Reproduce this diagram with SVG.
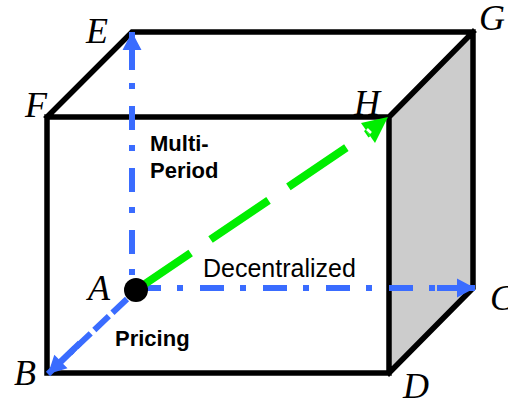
<svg xmlns="http://www.w3.org/2000/svg" width="508" height="400" viewBox="0 0 508 400">
<style>
.edge{fill:none;stroke:#000;stroke-width:5.5;stroke-linejoin:miter;stroke-linecap:square}
.lbl{font-family:"Liberation Serif","Times New Roman",serif;font-style:italic;font-size:36px;fill:#000}
.bold{font-family:"Liberation Sans",Arial,sans-serif;font-weight:bold;font-size:22px;fill:#000}
.reg{font-family:"Liberation Sans",Arial,sans-serif;font-size:25px;fill:#000}
.blue{fill:none;stroke:#3a6cff;stroke-width:6}
.green{fill:none;stroke:#00ee00;stroke-width:8}
</style>
<defs>
<marker id="bh" markerUnits="userSpaceOnUse" markerWidth="40" markerHeight="20" viewBox="-38 -10 40 20" refX="0" refY="0" orient="auto" overflow="visible">
<path d="M-38,-3 L-18,-3 L-18,-9.5 L0,0 L-18,9.5 L-18,3 L-38,3 Z" fill="#3a6cff"/>
</marker>
</defs>
<g id="box">
<polygon points="389,117 473,32 473,288 389,373" fill="#cccccc"/>
<polygon points="47,117 132,32 473,32 389,117" fill="#fff"/>
<rect x="47" y="117" width="342" height="256" fill="#fff"/>
<path class="edge" d="M47,117 L132,32 L473,32 L473,288 L389,373 M389,117 L473,32 M47,117 L389,117 L389,373 L47,373 Z"/>
</g>
<g id="connectors">
<path id="axis-period" class="blue" d="M132,48 L132,280" stroke-dasharray="24 15 6 17" stroke-dashoffset="4"/>
<path class="blue" d="M132,60 L132,32" stroke="none" marker-end="url(#bh)"/>
<path id="axis-decentralized" class="blue" d="M137,288 L437,288" stroke-dasharray="24 16 6 17"/>
<path class="blue" d="M440,288 L475,288" stroke="none" marker-end="url(#bh)"/>
<path id="axis-pricing" class="blue" d="M127,299 L70,353" stroke-dasharray="20 5"/>
<path class="blue" d="M80,343 L48,374" stroke="none" marker-end="url(#bh)"/>
<path id="diag-green" class="green" d="M136,290 L368,133" stroke-dasharray="70 24" stroke-dashoffset="4"/>
<polygon points="388,117 361,123 375,143" fill="#00ee00"/>
<path d="M367,129 L371,133" stroke="#fff" stroke-width="2.5"/>
</g>
<g id="node-A">
<circle cx="136" cy="290" r="12" fill="#000"/>
<text class="lbl" x="88" y="300">A</text>
</g>
<g id="node-B"><text class="lbl" x="14" y="385">B</text></g>
<g id="node-C"><text class="lbl" x="490" y="310">C</text></g>
<g id="node-D"><text class="lbl" x="403" y="398">D</text></g>
<g id="node-E"><text class="lbl" x="86" y="43">E</text></g>
<g id="node-F"><text class="lbl" x="25" y="117">F</text></g>
<g id="node-G"><text class="lbl" x="479" y="30">G</text></g>
<g id="node-H"><text class="lbl" x="354" y="115">H</text></g>
<g id="labels">
<text class="bold" x="150" y="151">Multi-</text>
<text class="bold" x="150" y="178">Period</text>
<text class="bold" x="115" y="346">Pricing</text>
<text class="reg" x="203" y="277">Decentralized</text>
</g>
</svg>
